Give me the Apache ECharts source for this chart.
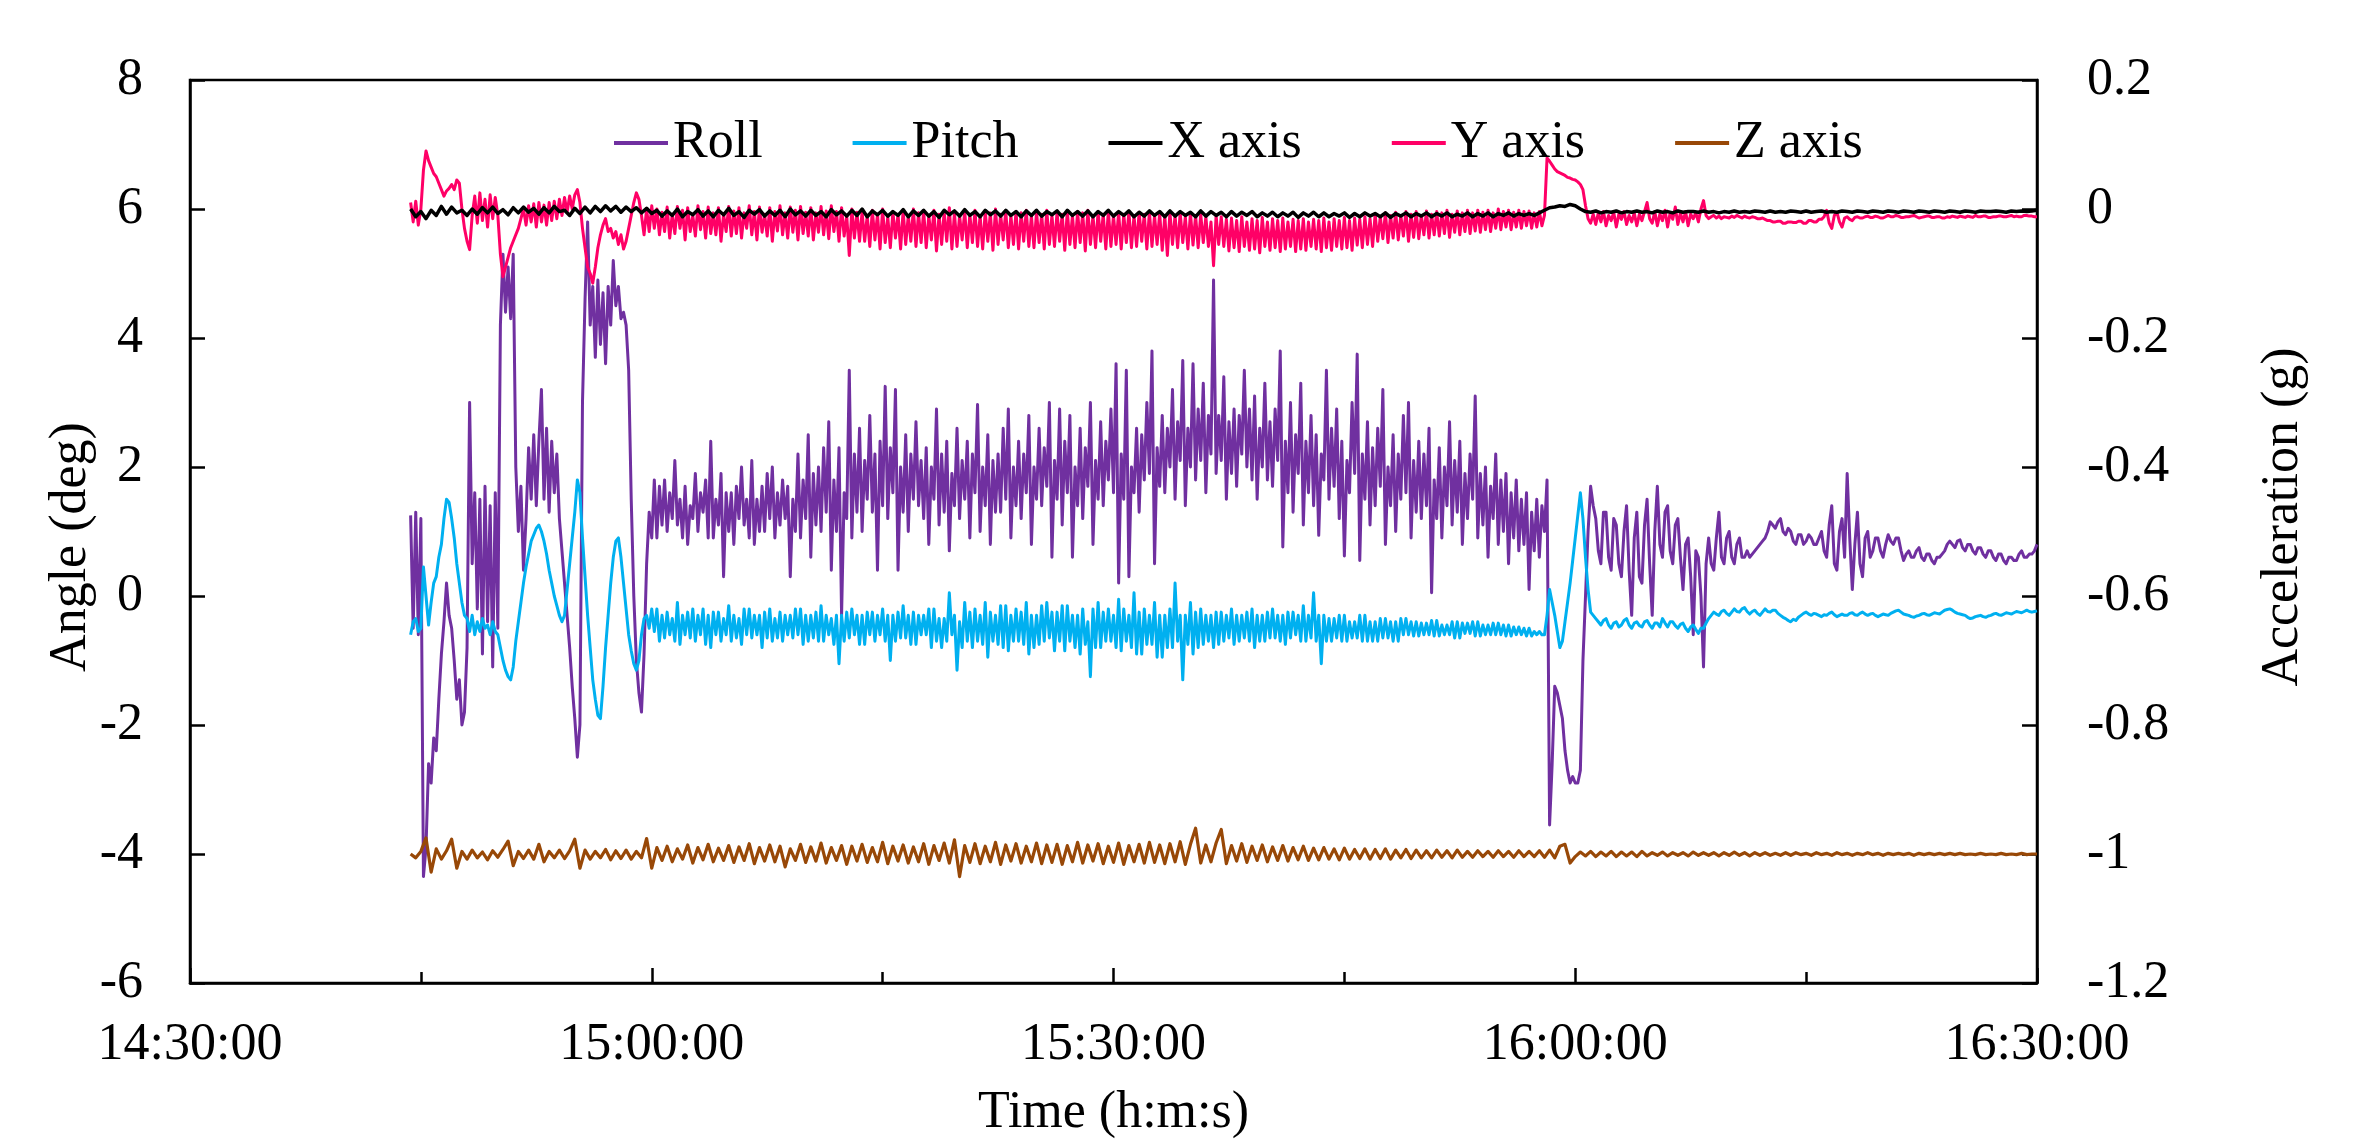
<!DOCTYPE html>
<html>
<head>
<meta charset="utf-8">
<title>Roll, pitch and acceleration</title>
<script src="https://cdn.jsdelivr.net/npm/echarts@6/dist/echarts.min.js"></script>
<style>
  html, body { margin: 0; padding: 0; background: #fff; }
  #chart { width: 2363px; height: 1144px; }
</style>
</head>
<body>
<div id="chart"></div>
<script>
// Record timing: first record and spacing for the angle / lateral channels
// (fast) and for the X / Z accelerometer channels (slow).
const START = '14:44:20';
const STEP_FAST_S = 10;
const STEP_SLOW_S = 20;

// Axis ranges
const TIME_MIN = '14:30:00';
const TIME_MAX = '16:30:00';
const TIME_TICK_MIN = 30;
const ANGLE_RANGE = [-6, 8, 2];
const ACC_RANGE = [-1.2, 0.2, 0.2];

const seriesNames = ['Roll', 'Pitch', 'X axis', 'Y axis', 'Z axis'];
const axisTitles = { time: 'Time (h:m:s)', angle: 'Angle (deg)', acc: 'Acceleration (g)' };

// Roll angle (deg), one value every 10 s
const roll = [
  1.25,-0.5,1.3,-0.6,1.2,-4.35,-3.9,-2.6,-2.9,-2.2,
  -2.4,-1.6,-0.9,-0.4,0.2,-0.3,-0.5,-1.0,-1.6,-1.3,
  -2.0,-1.8,-0.8,3.0,0.5,1.6,-0.2,1.5,-0.9,1.7,
  -0.4,1.4,-1.1,1.6,-0.5,4.2,5.3,4.4,5.1,4.3,
  5.3,2.0,1.0,1.7,0.4,1.2,2.3,1.5,2.5,1.4,
  2.4,3.2,1.5,2.6,1.3,2.4,1.6,2.2,1.2,0.7,
  0.2,-0.3,-0.8,-1.4,-1.9,-2.5,-2.0,3.0,4.6,5.8,
  4.2,4.8,3.7,4.9,3.9,4.7,3.6,4.8,4.2,5.2,
  4.5,4.8,4.3,4.4,4.2,3.5,1.5,0.0,-1.0,-1.5,
  -1.8,-0.9,0.5,1.3,0.9,1.8,
  0.9,1.7, 1.1,1.8, 1.0,1.6, 1.2,2.1, 1.1,1.5,
  0.9,1.7, 0.8,1.4, 1.2,1.9, 1.0,1.6, 1.3,1.8,
  0.9,2.4, 0.9,1.5, 1.1,1.9, 0.3,1.6, 1.0,1.6,
  0.8,1.7, 1.2,2.0, 1.1,1.5, 0.9,2.1, 0.8,1.5,
  1.0,1.7, 1.0,1.9, 1.2,2.0, 0.9,1.6, 1.1,1.8,
  1.2,1.7, 0.3,1.5, 1.0,2.2, 0.9,1.8, 1.2,2.5,
  0.6,1.9, 1.1,2.0, 1.0,2.3, 1.3,2.7, 0.4,1.8,
  1.0,2.3, -0.3,1.6, 1.2,3.5, 0.9,2.2, 1.3,2.6,
  1.0,2.1, 1.5,2.8, 1.3,2.2, 0.4,2.4, 1.4,3.25,
  1.2,2.3, 1.6,3.2, 0.4,2.0, 1.3,2.5, 1.0,2.2,
  1.5,2.7, 1.4,2.1, 1.2,2.3, 0.8,2.0, 1.5,2.9,
  1.1,2.2, 1.3,2.4, 0.7,1.9, 1.4,2.6, 1.2,2.1,
  1.5,2.4, 0.9,2.2, 1.6,2.97, 1.0,2.0, 1.4,2.5,
  0.8,2.1, 1.3,2.2, 1.3,2.6, 1.5,2.9, 0.9,2.0,
  1.4,2.4, 1.2,2.2, 1.6,2.8, 0.8,2.0, 1.5,2.6,
  1.4,2.3, 1.7,3.0, 0.6,2.1, 1.5,2.9, 1.1,2.4,
  1.6,2.8, 0.6,2.0, 1.4,2.6, 1.2,2.3, 1.7,3.0,
  0.8,2.1, 1.5,2.7, 1.4,2.4, 1.8,2.9, 1.6,3.6,
  0.2,2.2, 1.5,3.5, 0.3,2.0, 1.6,2.6, 1.3,2.5,
  1.8,3.0, 1.9,3.8, 0.5,2.3, 1.7,2.8, 1.6,2.6,
  2.0,3.2, 1.5,2.7, 2.1,3.65, 1.4,2.6, 2.0,3.6,
  1.8,2.9, 2.1,3.3, 1.6,2.8, 2.2,4.9, 1.9,2.8,
  2.1,3.4, 1.5,2.7, 1.9,2.9, 1.7,2.8, 2.2,3.5,
  2.0,2.9, 1.8,3.1, 1.5,2.6, 2.0,3.3, 1.8,2.7,
  1.7,2.9, 2.1,3.8, 0.76,2.4, 1.6,3.0, 1.3,2.5,
  1.9,3.3, 1.1,2.4, 1.6,2.8, 1.4,2.5, 0.94,2.2,
  1.8,3.5, 1.5,2.6, 1.7,2.9, 1.2,2.4, 0.62,2.1,
  1.6,3.0, 1.9,3.75, 0.55,2.2, 1.5,2.7, 1.1,2.3,
  1.4,2.6, 1.7,3.2, 0.8,2.0, 1.4,2.5, 1.0,2.2,
  1.5,2.8, 1.6,3.0, 0.9,2.1, 1.3,2.4, 1.2,2.2,
  1.4,2.6, 0.05,1.8, 1.2,2.3, 0.9,2.0, 1.4,2.7,
  1.1,2.1, 1.3,2.4, 0.8,1.9, 1.2,2.2, 1.5,3.1,
  0.9,1.9, 1.1,2.0, 0.6,1.7, 1.2,2.2, 0.8,1.8,
  1.0,1.9, 0.5,1.6, 0.9,1.8, 0.7,1.5, 0.8,1.6,
  0.1,1.3, 0.7,1.5, 0.6,1.4,
  1.0,1.8, -3.55,-2.6, -1.4,-1.5, -1.7,-1.9, -2.4,-2.7,
  -2.9,-2.8, -2.9,-2.9, -2.7,-1.0, 0.0,1.0, 1.7,1.4,
  1.2,0.7, 0.5,1.3, 1.3,0.6, 0.4,1.2, 1.1,0.5,
  0.3,1.0, 1.4,0.4, -0.3,0.9, 1.3,0.3, 0.2,1.1,
  1.5,0.5, -0.3,1.0, 1.7,0.8, 0.6,1.3, 1.4,0.7,
  0.5,1.1, 1.2,0.6, 0.1,0.8, 0.9,0.3, -0.6,0.7,
  0.6,0.0, -1.1,0.5, 0.9,0.5, 0.4,0.9, 1.3,0.6,
  0.5,0.9, 1.0,0.6, 0.5,0.8, 0.9,0.6, 0.6,0.7,
  0.6,0.65, 0.7,0.75, 0.8,0.85, 0.9,1.0, 1.15,1.1,
  1.05,1.15, 1.2,1.0, 0.95,1.05, 1.0,0.85, 0.8,0.95,
  0.95,0.8, 0.85,0.95, 0.9,0.8, 0.8,0.9, 1.0,0.7,
  0.6,1.1, 1.4,0.5, 0.4,1.0, 1.2,0.6, 1.9,0.9,
  0.1,0.8, 1.3,0.5, 0.3,0.9, 1.0,0.6, 0.7,0.9,
  0.9,0.7, 0.6,0.8, 0.95,0.85, 0.8,0.9, 0.9,0.7,
  0.55,0.65, 0.7,0.6, 0.6,0.7, 0.75,0.6, 0.55,0.65,
  0.65,0.55, 0.5,0.6, 0.6,0.65, 0.7,0.8, 0.85,0.8,
  0.75,0.85, 0.87,0.75, 0.7,0.8, 0.8,0.7, 0.65,0.75,
  0.75,0.65, 0.6,0.7, 0.7,0.6, 0.55,0.65, 0.65,0.55,
  0.5,0.6, 0.6,0.55, 0.55,0.65, 0.7,0.6, 0.6,0.65,
  0.65,0.7, 0.8
];

// Pitch angle (deg), one value every 10 s
const pitch = [
  -0.6,-0.4,-0.35,-0.55,-0.5,0.45,0.0,-0.45,-0.1,0.2,
  0.3,0.6,0.8,1.2,1.5,1.45,1.2,0.9,0.5,0.2,
  -0.1,-0.3,-0.35,-0.55,-0.3,-0.6,-0.4,-0.55,-0.35,-0.5,
  -0.45,-0.6,-0.4,-0.55,-0.6,-0.8,-1.0,-1.15,-1.25,-1.3,
  -1.1,-0.7,-0.4,-0.1,0.2,0.45,0.65,0.85,0.95,1.05,
  1.1,1.0,0.85,0.65,0.4,0.2,0.0,-0.15,-0.3,-0.4,
  -0.3,0.1,0.5,0.9,1.3,1.8,1.6,0.9,0.3,-0.3,
  -0.8,-1.3,-1.6,-1.85,-1.9,-1.4,-0.8,-0.3,0.2,0.6,
  0.85,0.9,0.6,0.2,-0.2,-0.6,-0.85,-1.05,-1.15,-1.0,
  -0.6,-0.35,-0.3,-0.5,-0.2,-0.55,
  -0.2,-0.7, -0.3,-0.65, -0.25,-0.6, -0.35,-0.7, -0.1,-0.75,
  -0.3,-0.6, -0.25,-0.65, -0.2,-0.7, -0.3,-0.6, -0.2,-0.75,
  -0.3,-0.8, -0.25,-0.6, -0.25,-0.7, -0.35,-0.6, -0.15,-0.7,
  -0.3,-0.65, -0.35,-0.75, -0.2,-0.6, -0.2,-0.65, -0.3,-0.6,
  -0.3,-0.8, -0.25,-0.65, -0.2,-0.7, -0.35,-0.65, -0.25,-0.7,
  -0.3,-0.6, -0.3,-0.65, -0.2,-0.6, -0.2,-0.75, -0.3,-0.7,
  -0.3,-0.65, -0.25,-0.7, -0.15,-0.7, -0.3,-0.6, -0.35,-0.75,
  -0.3,-1.05, -0.3,-0.7, -0.25,-0.65, -0.2,-0.6, -0.3,-0.75,
  -0.3,-0.75, -0.25,-0.6, -0.25,-0.7, -0.3,-0.6, -0.2,-0.7,
  -0.3,-1.0, -0.3,-0.7, -0.25,-0.65, -0.15,-0.65, -0.3,-0.75,
  -0.25,-0.75, -0.3,-0.6, -0.3,-0.6, -0.2,-0.8, -0.2,-0.7,
  -0.35,-0.8, -0.35,-0.7, 0.05,-0.6, -0.3,-1.15, -0.4,-0.8,
  -0.1,-0.7, -0.25,-0.8, -0.2,-0.7, -0.3,-0.75, -0.1,-0.95,
  -0.25,-0.7, -0.3,-0.75, -0.15,-0.8, -0.15,-0.85, -0.3,-0.7,
  -0.2,-0.7, -0.25,-0.75, -0.1,-0.9, -0.3,-0.8, -0.3,-0.75,
  -0.15,-0.7, -0.1,-0.65, -0.25,-0.85, -0.25,-0.7, -0.15,-0.85,
  -0.15,-0.7, -0.3,-0.8, -0.3,-0.9, -0.2,-0.75, -0.4,-1.25,
  -0.2,-0.8, -0.1,-0.8, -0.25,-0.7, -0.2,-0.7, -0.3,-0.8,
  -0.05,-0.85, -0.2,-0.7, -0.3,-0.8, 0.05,-0.9, -0.25,-0.9,
  -0.2,-0.75, -0.3,-0.75, -0.1,-0.95, -0.3,-0.95, -0.3,-0.8,
  -0.2,-0.8, 0.2,-0.7, -0.3,-1.3, -0.3,-0.75, -0.1,-0.9,
  -0.25,-0.8, -0.2,-0.75, -0.3,-0.7, -0.3,-0.8, -0.25,-0.75,
  -0.25,-0.7, -0.3,-0.65, -0.2,-0.75, -0.3,-0.7, -0.3,-0.65,
  -0.25,-0.7, -0.2,-0.8, -0.3,-0.7, -0.3,-0.7, -0.25,-0.65,
  -0.2,-0.65, -0.3,-0.7, -0.3,-0.75, -0.25,-0.65, -0.25,-0.6,
  -0.3,-0.7, -0.15,-0.7, -0.3,-0.65, 0.05,-0.7, -0.3,-1.05,
  -0.3,-0.7, -0.35,-0.7, -0.35,-0.65, -0.3,-0.7, -0.3,-0.7,
  -0.4,-0.65, -0.4,-0.65, -0.3,-0.7, -0.3,-0.7, -0.4,-0.7,
  -0.4,-0.7, -0.35,-0.65, -0.35,-0.65, -0.4,-0.7, -0.4,-0.7,
  -0.35,-0.6, -0.35,-0.6, -0.4,-0.62, -0.4,-0.62, -0.42,-0.6,
  -0.42,-0.6, -0.38,-0.62, -0.38,-0.62, -0.45,-0.6, -0.45,-0.6,
  -0.4,-0.65, -0.4,-0.65, -0.42,-0.58, -0.42,-0.58, -0.4,-0.62,
  -0.4,-0.62, -0.45,-0.6, -0.45,-0.6, -0.42,-0.6, -0.42,-0.6,
  -0.45,-0.62, -0.45,-0.62, -0.48,-0.6, -0.48,-0.6, -0.5,-0.62,
  -0.5,-0.62, -0.55,-0.6, -0.55,-0.6,
  -0.6,-0.3, 0.1,-0.1, -0.3,-0.55, -0.8,-0.7, -0.4,-0.1,
  0.2,0.55, 0.9,1.25, 1.6,1.2, 0.6,0.1, -0.25,-0.3,
  -0.35,-0.4, -0.45,-0.38, -0.35,-0.45, -0.5,-0.42, -0.4,-0.48,
  -0.45,-0.38, -0.35,-0.45, -0.5,-0.42, -0.4,-0.46, -0.48,-0.4,
  -0.38,-0.45, -0.5,-0.42, -0.42,-0.48, -0.35,-0.42, -0.48,-0.4,
  -0.4,-0.46, -0.5,-0.44, -0.42,-0.5, -0.55,-0.48, -0.45,-0.52,
  -0.58,-0.5, -0.5,-0.42, -0.35,-0.3, -0.25,-0.28, -0.3,-0.24,
  -0.22,-0.27, -0.3,-0.25, -0.2,-0.24, -0.25,-0.2, -0.18,-0.24,
  -0.28,-0.24, -0.22,-0.27, -0.3,-0.25, -0.2,-0.24, -0.25,-0.22,
  -0.22,-0.27, -0.3,-0.33, -0.35,-0.38, -0.4,-0.36, -0.38,-0.33,
  -0.3,-0.27, -0.25,-0.28, -0.3,-0.27, -0.28,-0.3, -0.32,-0.29,
  -0.3,-0.27, -0.25,-0.29, -0.32,-0.3, -0.28,-0.3, -0.3,-0.27,
  -0.26,-0.29, -0.3,-0.27, -0.25,-0.28, -0.3,-0.28, -0.27,-0.3,
  -0.32,-0.3, -0.28,-0.29, -0.3,-0.27, -0.25,-0.23, -0.22,-0.25,
  -0.28,-0.29, -0.3,-0.32, -0.33,-0.31, -0.3,-0.28, -0.27,-0.29,
  -0.3,-0.28, -0.26,-0.27, -0.28,-0.25, -0.22,-0.21, -0.2,-0.22,
  -0.25,-0.27, -0.28,-0.29, -0.3,-0.33, -0.35,-0.34, -0.32,-0.31,
  -0.3,-0.32, -0.33,-0.31, -0.3,-0.28, -0.27,-0.29, -0.3,-0.28,
  -0.26,-0.27, -0.28,-0.26, -0.24,-0.25, -0.26,-0.24, -0.22,-0.24,
  -0.25,-0.24, -0.23
];

// Acceleration along X (g), one value every 20 s
const accX = [
  0.000,-0.012,-0.004,-0.015,-0.002,-0.010,0.004,-0.008,0.003,-0.006,
  -0.002,-0.010,0.000,-0.008,0.002,-0.006,0.003,-0.007,-0.001,-0.009,
  0.002,-0.006,0.003,-0.005,0.001,-0.008,0.002,-0.006,0.004,-0.004,
  -0.002,-0.010,0.001,-0.007,0.003,-0.006,0.004,-0.004,0.005,-0.003,
  0.004,-0.005,0.003,-0.004,0.002,-0.006,0.001,-0.007,
  -0.002,-0.011,-0.003,-0.010,0.000,-0.012,-0.004,-0.009,-0.001,-0.011,
  -0.003,-0.012,-0.002,-0.009,0.001,-0.010,-0.004,-0.013,-0.002,-0.008,
  -0.001,-0.011,-0.003,-0.010,-0.002,-0.012,0.000,-0.009,-0.003,-0.011,
  -0.002,-0.010,-0.004,-0.012,-0.001,-0.009,-0.003,-0.011,-0.002,-0.010,
  0.000,-0.012,-0.003,-0.009,-0.002,-0.011,-0.004,-0.010,-0.001,-0.012,
  -0.003,-0.010,-0.002,-0.011,-0.004,-0.013,-0.002,-0.009,-0.003,-0.011,
  -0.001,-0.010,-0.004,-0.012,-0.002,-0.009,-0.003,-0.011,-0.002,-0.010,
  -0.004,-0.012,-0.003,-0.010,-0.002,-0.011,-0.004,-0.009,-0.003,-0.012,
  -0.002,-0.010,-0.004,-0.011,-0.003,-0.012,-0.004,-0.010,-0.002,-0.011,
  -0.004,-0.010,-0.003,-0.012,-0.005,-0.011,-0.003,-0.010,-0.004,-0.012,
  -0.003,-0.011,-0.004,-0.010,-0.005,-0.012,-0.003,-0.011,-0.004,-0.010,
  -0.005,-0.012,-0.004,-0.011,-0.005,-0.010,-0.004,-0.012,-0.006,-0.011,
  -0.005,-0.012,-0.006,-0.011,-0.005,-0.013,-0.006,-0.011,-0.005,-0.012,
  -0.006,-0.012,-0.007,-0.011,-0.006,-0.013,-0.007,-0.012,-0.006,-0.011,
  -0.007,-0.012,-0.006,-0.013,-0.007,-0.011,-0.006,-0.012,-0.007,-0.011,
  -0.006,-0.012,-0.007,-0.011,-0.006,-0.012,-0.008,-0.011,-0.006,-0.012,
  -0.007,-0.011,-0.006,-0.012,-0.007,-0.010,-0.006,-0.011,-0.007,-0.010,
  -0.007,-0.010,-0.006,-0.002,0.002,0.003,0.005,0.004,0.007,0.005,
  0.000,-0.004,
  -0.005,-0.003,-0.006,-0.004,-0.005,-0.003,-0.006,-0.004,-0.005,-0.003,
  -0.005,-0.004,-0.006,-0.003,-0.005,-0.004,-0.006,-0.003,-0.005,-0.004,
  -0.004,-0.005,-0.003,-0.005,-0.004,-0.006,-0.004,-0.005,-0.003,-0.005,
  -0.004,-0.005,-0.003,-0.004,-0.005,-0.003,-0.005,-0.004,-0.005,-0.003,
  -0.004,-0.005,-0.003,-0.005,-0.004,-0.003,-0.005,-0.004,-0.005,-0.003,
  -0.004,-0.005,-0.003,-0.004,-0.005,-0.003,-0.004,-0.005,-0.003,-0.004,
  -0.005,-0.003,-0.004,-0.005,-0.003,-0.004,-0.005,-0.003,-0.004,-0.005,
  -0.003,-0.004,-0.005,-0.003,-0.004,-0.005,-0.003,-0.004,-0.004,-0.003,
  -0.004,-0.005,-0.003,-0.004,-0.003,-0.004,-0.003,-0.002
];

// Acceleration along Y (g), one value every 10 s
const accY = [
  0.010,-0.020,0.012,-0.025,0.000,0.060,0.090,0.075,0.065,0.055,
  0.050,0.040,0.030,0.020,0.028,0.032,0.038,0.030,0.045,0.040,
  0.000,-0.030,-0.050,-0.063,-0.010,0.020,-0.022,0.025,-0.018,0.015,
  -0.028,0.022,-0.015,0.018,-0.010,-0.070,-0.105,-0.090,-0.075,-0.060,
  -0.050,-0.040,-0.030,-0.015,0.000,-0.025,0.005,-0.020,0.008,-0.028,
  0.010,-0.020,0.006,-0.025,0.010,-0.018,0.012,-0.015,0.015,-0.010,
  0.018,-0.005,0.020,0.000,0.022,0.030,0.010,-0.030,-0.060,-0.090,
  -0.100,-0.115,-0.090,-0.060,-0.040,-0.025,-0.015,-0.035,-0.030,-0.045,
  -0.035,-0.055,-0.040,-0.062,-0.050,-0.030,-0.010,0.010,0.025,0.015,
  -0.010,-0.040,0.000,-0.035,0.005,-0.030,
  0.000,-0.040, -0.005,-0.035, 0.003,-0.045, -0.008,-0.038, 0.004,-0.030,
  -0.002,-0.048, 0.002,-0.035, -0.010,-0.042, 0.005,-0.032, -0.004,-0.045,
  0.003,-0.038, -0.006,-0.040, 0.002,-0.050, -0.008,-0.035, 0.004,-0.042,
  -0.003,-0.038, 0.002,-0.045, -0.006,-0.030, 0.005,-0.040, -0.004,-0.048,
  0.003,-0.036, -0.008,-0.042, 0.002,-0.050, -0.004,-0.034, 0.005,-0.040,
  -0.006,-0.045, 0.003,-0.036, -0.002,-0.048, 0.004,-0.038, -0.005,-0.042,
  0.002,-0.048, -0.006,-0.036, 0.004,-0.040, -0.003,-0.046, 0.005,-0.035,
  -0.004,-0.050, 0.002,-0.042, -0.010,-0.072, 0.000,-0.045, -0.005,-0.050,
  -0.004,-0.050, -0.010,-0.058, -0.002,-0.048, -0.008,-0.062, 0.000,-0.052,
  -0.012,-0.060, -0.004,-0.045, -0.008,-0.062, -0.002,-0.055, -0.010,-0.050,
  0.000,-0.058, -0.006,-0.052, -0.003,-0.060, -0.010,-0.048, -0.002,-0.065,
  -0.008,-0.055, -0.004,-0.050, 0.002,-0.062, -0.006,-0.058, -0.010,-0.048,
  -0.003,-0.060, -0.008,-0.052, -0.002,-0.058, -0.010,-0.062, -0.004,-0.050,
  -0.006,-0.064, 0.000,-0.055, -0.008,-0.048, -0.003,-0.060, -0.010,-0.055,
  -0.004,-0.062, -0.006,-0.050, -0.002,-0.058, -0.010,-0.060, -0.004,-0.052,
  -0.008,-0.062, -0.002,-0.055, -0.010,-0.058, -0.005,-0.050, -0.008,-0.064,
  -0.003,-0.055, -0.010,-0.060, -0.004,-0.052, -0.006,-0.065, -0.002,-0.055,
  -0.010,-0.060, -0.004,-0.050, -0.008,-0.062, -0.003,-0.058, -0.010,-0.055,
  -0.005,-0.062, -0.008,-0.052, -0.004,-0.060, -0.010,-0.058, -0.005,-0.050,
  -0.008,-0.062, -0.004,-0.058, -0.010,-0.055, -0.006,-0.064, -0.010,-0.072,
  -0.005,-0.055, -0.010,-0.060, -0.006,-0.052, -0.012,-0.062, -0.006,-0.056,
  -0.010,-0.060, -0.008,-0.052, -0.012,-0.058, -0.020,-0.088, -0.010,-0.055,
  -0.012,-0.058, -0.016,-0.065, -0.014,-0.060, -0.018,-0.066, -0.012,-0.058,
  -0.020,-0.064, -0.015,-0.062, -0.018,-0.068, -0.013,-0.058, -0.020,-0.064,
  -0.015,-0.060, -0.018,-0.066, -0.014,-0.062, -0.020,-0.058, -0.016,-0.066,
  -0.018,-0.062, -0.015,-0.064, -0.020,-0.058, -0.016,-0.062, -0.018,-0.066,
  -0.014,-0.060, -0.020,-0.064, -0.015,-0.058, -0.018,-0.062, -0.013,-0.060,
  -0.018,-0.064, -0.014,-0.056, -0.016,-0.060, -0.012,-0.055, -0.015,-0.058,
  -0.008,-0.050, -0.012,-0.046, -0.006,-0.052, -0.010,-0.045, -0.005,-0.048,
  -0.010,-0.042, -0.004,-0.050, -0.008,-0.044, -0.004,-0.046, -0.010,-0.040,
  -0.003,-0.045, -0.008,-0.040, -0.004,-0.042, -0.006,-0.038, -0.002,-0.044,
  -0.008,-0.036, -0.003,-0.040, -0.006,-0.035, -0.002,-0.038, -0.006,-0.034,
  -0.002,-0.036, -0.005,-0.032, -0.002,-0.035, -0.006,-0.030, 0.000,-0.032,
  -0.004,-0.028, -0.002,-0.032, -0.005,-0.028, -0.002,-0.030, -0.004,-0.026,
  -0.003,-0.030, -0.006,-0.028, -0.004,-0.026,
  -0.010,0.079, 0.074,0.068, 0.062,0.058, 0.056,0.054, 0.052,0.049,
  0.048,0.046, 0.045,0.042, 0.038,0.030, 0.005,-0.015, -0.022,-0.008,
  -0.024,-0.006, -0.020,-0.004, -0.026,-0.010, -0.018,-0.005, -0.028,-0.008,
  -0.016,-0.004, -0.024,-0.010, -0.020,-0.006, -0.026,-0.008, -0.018,-0.004,
  0.010,-0.015, -0.022,-0.004, -0.026,-0.008, -0.018,-0.002, -0.028,-0.006,
  -0.016,0.003, -0.024,-0.006, -0.020,-0.004, -0.026,-0.008, -0.015,-0.006,
  -0.020,0.000, 0.013,-0.010, -0.015,-0.012, -0.010,-0.014, -0.011,-0.015,
  -0.012,-0.013, -0.014,-0.011, -0.013,-0.010, -0.012,-0.014, -0.011,-0.013,
  -0.014,-0.012, -0.013,-0.015, -0.015,-0.014, -0.016,-0.018, -0.018,-0.020,
  -0.020,-0.019, -0.019,-0.022, -0.022,-0.020, -0.020,-0.021, -0.021,-0.019,
  -0.019,-0.022, -0.022,-0.018, -0.018,-0.020, -0.020,-0.016, -0.016,-0.012,
  -0.002,-0.022, -0.030,-0.010, -0.005,-0.020, -0.028,-0.014, -0.012,-0.016,
  -0.018,-0.013, -0.012,-0.014, -0.014,-0.012, -0.011,-0.013, -0.013,-0.011,
  -0.012,-0.014, -0.014,-0.012, -0.010,-0.012, -0.012,-0.010, -0.011,-0.013,
  -0.013,-0.012, -0.012,-0.011, -0.010,-0.012, -0.014,-0.013, -0.012,-0.011,
  -0.011,-0.013, -0.013,-0.012, -0.012,-0.014, -0.014,-0.012, -0.013,-0.011,
  -0.012,-0.013, -0.011,-0.012, -0.013,-0.011, -0.012,-0.013, -0.010,-0.012,
  -0.012,-0.011, -0.011,-0.013, -0.013,-0.012, -0.012,-0.011, -0.011,-0.012,
  -0.012,-0.011, -0.010,-0.012, -0.011,-0.012, -0.012,-0.010, -0.010,-0.011,
  -0.011,-0.012, -0.012
];

// Acceleration along Z (g), one value every 20 s
const accZ = [
  -1.000,-1.006,-0.996,-0.975,-1.028,-0.992,-1.008,-0.995,-0.977,-1.022,
  -0.996,-1.008,-0.994,-1.006,-0.997,-1.009,-0.995,-1.005,-0.993,-0.980,
  -1.018,-0.996,-1.007,-0.994,-1.008,-0.985,-1.012,-0.996,-1.006,-0.994,
  -1.007,-0.995,-0.977,-1.022,-0.994,-1.008,-0.996,-1.006,-0.993,-1.009,
  -0.995,-1.007,-0.994,-1.008,-0.996,-1.006,-0.976,-1.022,
  -0.990,-1.010,-0.988,-1.012,-0.992,-1.008,-0.986,-1.014,-0.990,-1.009,
  -0.985,-1.012,-0.991,-1.010,-0.987,-1.013,-0.989,-1.010,-0.984,-1.015,
  -0.990,-1.011,-0.986,-1.012,-0.988,-1.020,-0.992,-1.010,-0.985,-1.013,
  -0.989,-1.011,-0.983,-1.014,-0.990,-1.010,-0.987,-1.016,-0.988,-1.011,
  -0.985,-1.013,-0.990,-1.012,-0.982,-1.015,-0.988,-1.011,-0.986,-1.014,
  -0.989,-1.012,-0.984,-1.016,-0.987,-1.010,-0.983,-1.014,-0.978,-1.035,
  -0.987,-1.013,-0.984,-1.015,-0.988,-1.012,-0.982,-1.016,-0.986,-1.011,
  -0.984,-1.014,-0.988,-1.012,-0.983,-1.015,-0.986,-1.013,-0.985,-1.016,
  -0.987,-1.012,-0.982,-1.014,-0.986,-1.011,-0.984,-1.015,-0.988,-1.013,
  -0.983,-1.016,-0.987,-1.012,-0.985,-1.014,-0.982,-1.013,-0.986,-1.015,
  -0.984,-1.012,-0.981,-1.016,-0.985,-0.960,-1.014,-0.986,-1.012,-0.983,
  -0.962,-1.015,-0.987,-1.011,-0.984,-1.013,-0.988,-1.010,-0.986,-1.012,
  -0.989,-1.010,-0.987,-1.011,-0.990,-1.009,-0.988,-1.010,-0.991,-1.009,
  -0.990,-1.008,-0.992,-1.009,-0.991,-1.008,-0.993,-1.007,-0.992,-1.008,
  -0.993,-1.007,-0.992,-1.008,-0.994,-1.006,-0.993,-1.007,-0.994,-1.006,
  -0.995,-1.006,-0.994,-1.005,-0.995,-1.006,-0.994,-1.005,-0.996,-1.005,
  -0.995,-1.004,-0.996,-1.005,-0.995,-1.004,-0.996,-1.005,-0.995,-1.004,
  -0.996,-1.004,-0.995,-1.005,-0.994,-1.006,-0.988,-0.985,-1.014,-1.004,
  -0.997,-1.003,-0.996,-1.004,-0.997,-1.003,-0.996,-1.004,-0.997,-1.003,
  -0.997,-1.004,-0.996,-1.003,
  -0.998,-1.002,-0.997,-1.003,-0.998,-1.002,-0.998,-1.003,-0.997,-1.002,
  -0.998,-1.002,-0.998,-1.003,-0.998,-1.002,-0.997,-1.002,-0.998,-1.003,
  -0.998,-1.002,-0.998,-1.002,-0.999,-1.002,-0.998,-1.002,-0.998,-1.001,
  -0.999,-1.002,-0.998,-1.001,-0.999,-1.002,-0.998,-1.001,-0.999,-1.002,
  -0.999,-1.001,-0.998,-1.001,-0.999,-1.002,-0.999,-1.001,-0.999,-1.001,
  -0.999,-1.002,-0.999,-1.001,-0.999,-1.001,-0.999,-1.001,-0.999,-1.001,
  -0.999,-1.001,-1.000,-1.001,-0.999,-1.001,-1.000,-1.001,-0.999,-1.001,
  -1.000,-1.001,-0.999,-1.001,-1.000,-1.000
];

const seriesColors = ['#7030A0', '#00B0F0', '#000000', '#FF0066', '#984807'];
const seriesWidths = [3, 3, 3.5, 3, 3.2];
// Drawing order: the X trace sits on top of the Y trace
const seriesZ = [2, 2, 4, 3, 2];

function toMinutes(hms) {
  const [h, m, s] = hms.split(':').map(Number);
  return h * 60 + m + s / 60;
}

function fmtTime(v) {
  const h = Math.floor(v / 60 + 1e-9);
  const m = Math.round(v - h * 60);
  return h + ':' + String(m).padStart(2, '0') + ':00';
}

const t0 = toMinutes(START);
const withTime = (values, stepS) => values.map((v, i) => [t0 + i * stepS / 60, v]);

const FONT = "'Liberation Serif', 'Times New Roman', 'DejaVu Serif', serif";
const FS = 52;
const axisLineStyle = { color: '#000', width: 2.5 };

const chart = echarts.init(document.getElementById('chart'), null, { renderer: 'canvas' });

const channels = [
  { values: roll, step: STEP_FAST_S, axis: 0 },
  { values: pitch, step: STEP_FAST_S, axis: 0 },
  { values: accX, step: STEP_SLOW_S, axis: 1 },
  { values: accY, step: STEP_FAST_S, axis: 1 },
  { values: accZ, step: STEP_SLOW_S, axis: 1 }
];

// Vertical axis titles, read bottom to top on both sides
const sideTitle = (text, x, y) => ({
  type: 'text', x, y, rotation: Math.PI / 2, silent: true,
  style: {
    text, fill: '#000', font: FS + 'px ' + FONT,
    align: 'center', verticalAlign: 'middle'
  }
});

chart.setOption({
  animation: false,
  backgroundColor: '#fff',
  textStyle: { fontFamily: FONT, color: '#000' },
  grid: {
    left: 190, right: 326, top: 80, bottom: 160,
    show: true, borderColor: '#000', borderWidth: 2.5, backgroundColor: 'transparent'
  },
  legend: {
    data: seriesNames,
    left: 614, top: 117, padding: 0,
    icon: 'rect', itemWidth: 54, itemHeight: 4, itemGap: 90,
    textStyle: { fontFamily: FONT, fontSize: FS, color: '#000' }
  },
  graphic: [
    sideTitle(axisTitles.angle, 71, 547),
    sideTitle(axisTitles.acc, 2283, 517)
  ],
  xAxis: {
    type: 'value',
    min: toMinutes(TIME_MIN), max: toMinutes(TIME_MAX), interval: TIME_TICK_MIN,
    name: axisTitles.time, nameLocation: 'middle', nameGap: 104,
    nameTextStyle: { fontFamily: FONT, fontSize: FS, color: '#000' },
    axisLine: { onZero: false, lineStyle: axisLineStyle },
    axisTick: { inside: true, length: 15, lineStyle: axisLineStyle },
    minorTick: { show: true, splitNumber: 2, length: 11, lineStyle: axisLineStyle },
    splitLine: { show: false },
    axisLabel: { fontFamily: FONT, fontSize: FS, color: '#000', margin: 36, formatter: fmtTime }
  },
  yAxis: [
    {
      type: 'value', position: 'left',
      min: ANGLE_RANGE[0], max: ANGLE_RANGE[1], interval: ANGLE_RANGE[2],
      axisLine: { show: true, lineStyle: axisLineStyle },
      axisTick: { show: true, inside: true, length: 15, lineStyle: axisLineStyle },
      splitLine: { show: false },
      axisLabel: { fontFamily: FONT, fontSize: FS, color: '#000', margin: 47 }
    },
    {
      type: 'value', position: 'right',
      min: ACC_RANGE[0], max: ACC_RANGE[1], interval: ACC_RANGE[2],
      axisLine: { show: true, lineStyle: axisLineStyle },
      axisTick: { show: true, inside: true, length: 15, lineStyle: axisLineStyle },
      splitLine: { show: false },
      axisLabel: {
        fontFamily: FONT, fontSize: FS, color: '#000', margin: 50,
        formatter: (v) => String(Number(v.toFixed(1)))
      }
    }
  ],
  series: channels.map((ch, k) => ({
    name: seriesNames[k],
    type: 'line',
    yAxisIndex: ch.axis,
    z: seriesZ[k],
    data: withTime(ch.values, ch.step),
    showSymbol: false,
    symbol: 'none',
    sampling: null,
    lineStyle: { color: seriesColors[k], width: seriesWidths[k], join: 'round' },
    itemStyle: { color: seriesColors[k] },
    emphasis: { disabled: true }
  }))
});
</script>
</body>
</html>
